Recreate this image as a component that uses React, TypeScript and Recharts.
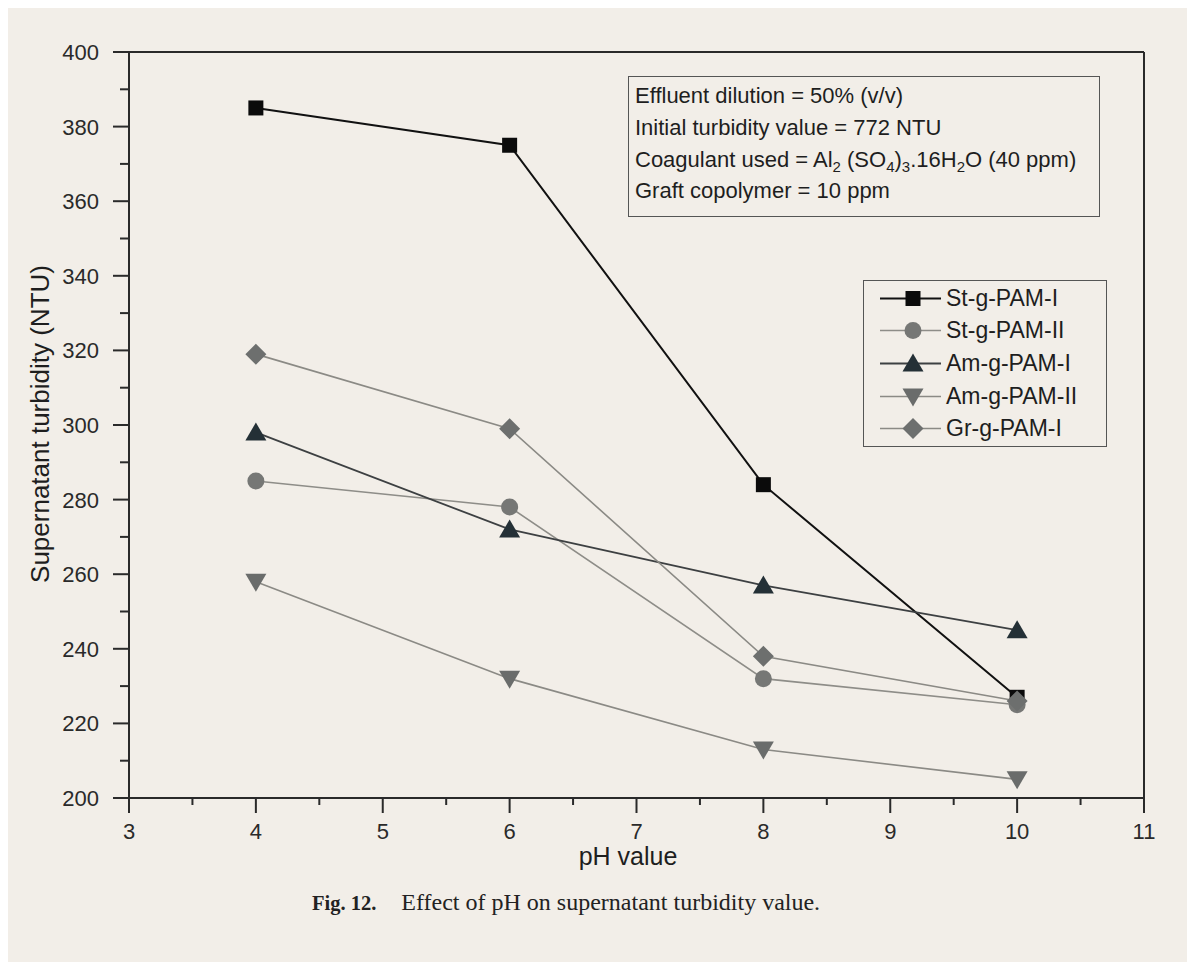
import React from 'react'
import { LineChart, Line, XAxis, YAxis, Legend, ReferenceLine } from 'recharts'

const phValues = [4, 6, 8, 10]
const stPam1 = [385, 375, 284, 227]
const stPam2 = [285, 278, 232, 225]
const amPam1 = [298, 272, 257, 245]
const amPam2 = [258, 232, 213, 205]
const grPam1 = [319, 299, 238, 226]

const xTicks = [3, 3.5, 4, 4.5, 5, 5.5, 6, 6.5, 7, 7.5, 8, 8.5, 9, 9.5, 10, 10.5, 11]
const yTicks = [200, 210, 220, 230, 240, 250, 260, 270, 280, 290, 300, 310, 320, 330, 340, 350, 360, 370, 380, 390, 400]

const data = phValues.map((ph, i) => ({
  ph,
  stPam1: stPam1[i],
  stPam2: stPam2[i],
  amPam1: amPam1[i],
  amPam2: amPam2[i],
  grPam1: grPam1[i],
}))

const series = [
  { key: 'stPam1', name: 'St-g-PAM-I', shape: 'square', fill: '#0b0b0b', stroke: '#111111', width: 2 },
  { key: 'stPam2', name: 'St-g-PAM-II', shape: 'circle', fill: '#767775', stroke: '#8e8d88', width: 1.6 },
  { key: 'amPam1', name: 'Am-g-PAM-I', shape: 'up', fill: '#243036', stroke: '#3d4042', width: 1.8 },
  { key: 'amPam2', name: 'Am-g-PAM-II', shape: 'down', fill: '#6a6c6b', stroke: '#8b8a85', width: 1.6 },
  { key: 'grPam1', name: 'Gr-g-PAM-I', shape: 'diamond', fill: '#6d6f6e', stroke: '#8b8a85', width: 1.6 },
]

const FONT = '"Liberation Sans", Arial, Helvetica, sans-serif'
const AXIS = '#2a2a2a'
const SUB = { fontSize: 15, lineHeight: 0 }

function Marker({ shape, cx, cy, fill }) {
  if (cx == null || cy == null) return null
  if (shape === 'square') return <rect x={cx - 7.5} y={cy - 7.5} width={15} height={15} fill={fill} />
  if (shape === 'circle') return <circle cx={cx} cy={cy} r={8.5} fill={fill} />
  if (shape === 'up') return <polygon points={`${cx},${cy - 10} ${cx + 10.5},${cy + 8} ${cx - 10.5},${cy + 8}`} fill={fill} />
  if (shape === 'down') return <polygon points={`${cx},${cy + 10} ${cx + 10.5},${cy - 8} ${cx - 10.5},${cy - 8}`} fill={fill} />
  return <polygon points={`${cx},${cy - 10.5} ${cx + 10.5},${cy} ${cx},${cy + 10.5} ${cx - 10.5},${cy}`} fill={fill} />
}

function XTick({ x, y, payload }) {
  const major = Number.isInteger(payload.value)
  return (
    <g>
      <line x1={x} y1={y} x2={x} y2={y + (major ? 15 : 7)} stroke={AXIS} strokeWidth={2} />
      {major && (
        <text x={x} y={y + 41} textAnchor="middle" fontSize={22} fontFamily={FONT} fill="#2a2a2a">{payload.value}</text>
      )}
    </g>
  )
}

function YTick({ x, y, payload }) {
  const major = payload.value % 20 === 0
  return (
    <g>
      <line x1={x} y1={y} x2={x - (major ? 16 : 9)} y2={y} stroke={AXIS} strokeWidth={2} />
      {major && (
        <text x={x - 30} y={y + 8} textAnchor="end" fontSize={22} fontFamily={FONT} fill="#2a2a2a">{payload.value}</text>
      )}
    </g>
  )
}

function LegendBox() {
  return (
    <div style={{ border: '1.5px solid #555', width: 244, height: 167, boxSizing: 'border-box', padding: '1px 0 0 0' }}>
      {series.map((s) => (
        <div key={s.key} style={{ display: 'flex', alignItems: 'center', height: 32.6 }}>
          <svg width={82} height={33} style={{ display: 'block' }}>
            <line x1={16} y1={16.5} x2={77} y2={16.5} stroke={s.stroke} strokeWidth={s.width} />
            <Marker shape={s.shape} cx={49} cy={16.5} fill={s.fill} />
          </svg>
          <span style={{ fontFamily: FONT, fontSize: 23, color: '#1e1e1e' }}>{s.name}</span>
        </div>
      ))}
    </div>
  )
}

export default function App() {
  return (
    <div style={{ position: 'relative', width: 1187, height: 954, background: '#f2eee8' }}>
      <LineChart width={1187} height={954} data={data} margin={{ top: 44, right: 51, bottom: 134, left: 61 }}>
        <XAxis
          dataKey="ph"
          type="number"
          domain={[3, 11]}
          ticks={xTicks}
          interval={0}
          tickLine={false}
          tickSize={0}
          tickMargin={0}
          tick={<XTick />}
          stroke={AXIS}
          strokeWidth={2}
          height={30}
        />
        <YAxis
          type="number"
          domain={[200, 400]}
          ticks={yTicks}
          interval={0}
          tickLine={false}
          tickSize={0}
          tickMargin={0}
          tick={<YTick />}
          stroke={AXIS}
          strokeWidth={2}
          width={60}
        />
        <ReferenceLine y={400} stroke={AXIS} strokeWidth={2} />
        <ReferenceLine x={11} stroke={AXIS} strokeWidth={2} />
        <Legend
          layout="vertical"
          align="center"
          verticalAlign="middle"
          content={() => <LegendBox />}
          wrapperStyle={{ left: 855, top: 272, width: 246, height: 169 }}
        />
        {series.map((s) => (
          <Line
            key={s.key}
            dataKey={s.key}
            name={s.name}
            type="linear"
            stroke={s.stroke}
            strokeWidth={s.width}
            dot={(p) => <Marker key={`${s.key}-${p.index}`} shape={s.shape} cx={p.cx} cy={p.cy} fill={s.fill} />}
            activeDot={false}
            isAnimationActive={false}
          />
        ))}
      </LineChart>

      <div style={{ position: 'absolute', left: 620, top: 68, width: 472, height: 141, boxSizing: 'border-box', border: '1.5px solid #555', padding: '3px 0 0 6px', fontFamily: FONT, fontSize: 22, color: '#1e1e1e', lineHeight: '31.8px' }}>
        <div>Effluent dilution = 50% (v/v)</div>
        <div>Initial turbidity value = 772 NTU</div>
        <div>Coagulant used = Al<sub style={SUB}>2</sub> (SO<sub style={SUB}>4</sub>)<sub style={SUB}>3</sub>.16H<sub style={SUB}>2</sub>O (40 ppm)</div>
        <div>Graft copolymer = 10 ppm</div>
      </div>

      <div style={{ position: 'absolute', left: 0, width: 1187, top: 834, textAlign: 'center', paddingLeft: 53, boxSizing: 'border-box', fontFamily: FONT, fontSize: 25, color: '#1e1e1e' }}>pH value</div>
      <div style={{ position: 'absolute', left: 32, top: 416, width: 0, height: 0 }}>
        <div style={{ position: 'absolute', transform: 'translate(-50%, -50%) rotate(-90deg)', whiteSpace: 'nowrap', fontFamily: FONT, fontSize: 26, color: '#1e1e1e' }}>Supernatant turbidity (NTU)</div>
      </div>

      <div style={{ position: 'absolute', left: 304, top: 881, fontFamily: '"Liberation Serif", "Times New Roman", serif', color: '#222', whiteSpace: 'nowrap' }}>
        <b style={{ fontSize: 20.5 }}>Fig. 12.</b>
        <span style={{ fontSize: 24, marginLeft: 25 }}>Effect of pH on supernatant turbidity value.</span>
      </div>
    </div>
  )
}
